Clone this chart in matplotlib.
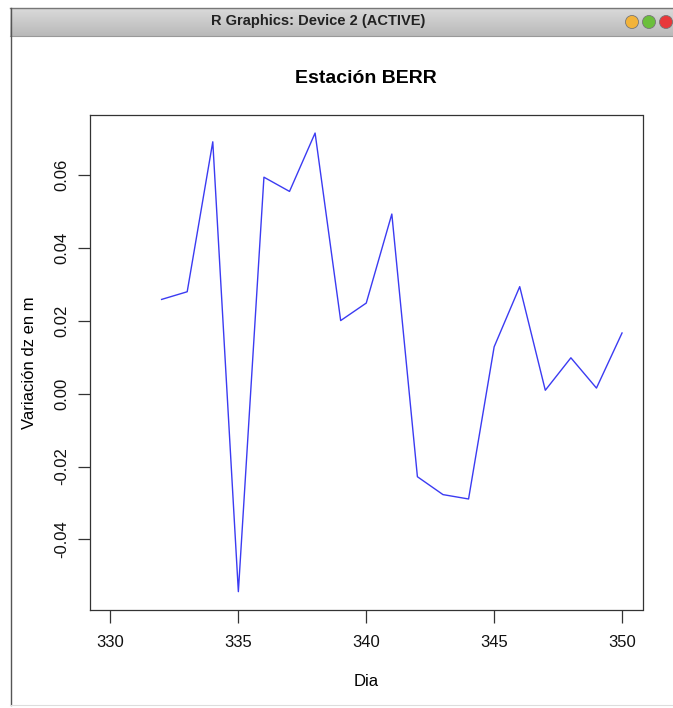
import numpy as np
import matplotlib
matplotlib.use("Agg")
import matplotlib.pyplot as plt
from matplotlib.patches import Circle
from matplotlib.colors import LinearSegmentedColormap

plt.rcParams['font.family'] = ['Liberation Sans', 'DejaVu Sans']

# Data
dias = [330, 331, 332, 333, 334, 335, 336, 337, 338, 339, 340,
        341, 342, 343, 344, 345, 346, 347, 348, 349, 350]
dz = [np.nan, np.nan, 0.0258, 0.0279, 0.0690, -0.0543, 0.0593, 0.0554, 0.0714,
      0.0200, 0.0248, 0.0492, -0.0228, -0.0277, -0.0289, 0.0128, 0.0293,
      0.0009, 0.0098, 0.0015, 0.0166]
xticks = [330, 335, 340, 345, 350]
yticks = [-0.04, -0.02, 0.00, 0.02, 0.04, 0.06]
ytick_labels = ["-0.04", "-0.02", "0.00", "0.02", "0.04", "0.06"]
title = "Estación BERR"
xlabel = "Dia"
ylabel = "Variación dz en m"
window_title = "R Graphics: Device 2 (ACTIVE)"

W, H = 673, 708
fig = plt.figure(figsize=(W / 100, H / 100), dpi=100)

# Window chrome
bg = fig.add_axes([0, 0, 1, 1])
bg.set_xlim(0, W)
bg.set_ylim(H, 0)
bg.axis('off')
grad = np.linspace(0, 1, 50).reshape(-1, 1)
cm = LinearSegmentedColormap.from_list('tb', ['#dadada', '#b9b9b9'])
bg.imshow(grad, extent=[10, W, 36, 8], cmap=cm, aspect='auto', zorder=1)
bg.plot([10, W], [8, 8], color='#777777', lw=1.0, zorder=2)
bg.plot([10, W], [36, 36], color='#999999', lw=0.8, zorder=2)
bg.plot([10.5, 10.5], [8, 705], color='#555555', lw=1.0, zorder=2)
bg.plot([10, W], [705, 705], color='#dddddd', lw=0.8, zorder=2)
bg.text(318, 21, window_title, ha='center', va='center', fontsize=10.5,
        fontweight='bold', color='#222222', zorder=3)
for cx, col in [(632, '#f2b33a'), (649, '#6bbf3b'), (666, '#e8383a')]:
    bg.add_patch(Circle((cx, 22), 6.5, facecolor=col, edgecolor='#777777',
                        lw=0.6, zorder=3))

# Plot area
left, right, top, bottom = 90, 642.5, 114.7, 610
ax = fig.add_axes([left / W, 1 - bottom / H, (right - left) / W, (bottom - top) / H])
ax.plot(dias, dz, color='#3b3bf2', lw=1.0)
vals = np.array(dz, dtype=float)
vmin, vmax = np.nanmin(vals), np.nanmax(vals)
r = vmax - vmin
ax.set_ylim(vmin - 0.04 * r, vmax + 0.04 * r)
ax.set_xlim(329.2, 350.8)
ax.set_xticks(xticks)
ax.set_xticklabels([str(t) for t in xticks], fontsize=12)
ax.set_yticks(yticks)
ax.set_yticklabels(ytick_labels, fontsize=12, rotation=90, va='center')
ax.tick_params(length=9, width=0.9, color='#333333', labelcolor='#111111')
ax.tick_params(axis='x', pad=9)
ax.tick_params(axis='y', pad=6)
for s in ax.spines.values():
    s.set_linewidth(0.9)
    s.set_color('#333333')
ax.set_title(title, fontsize=14, fontweight='bold', pad=23)
ax.set_xlabel(xlabel, fontsize=12, labelpad=17)
ax.set_ylabel(ylabel, fontsize=12, labelpad=12)

fig.savefig("out.png", dpi=100)
